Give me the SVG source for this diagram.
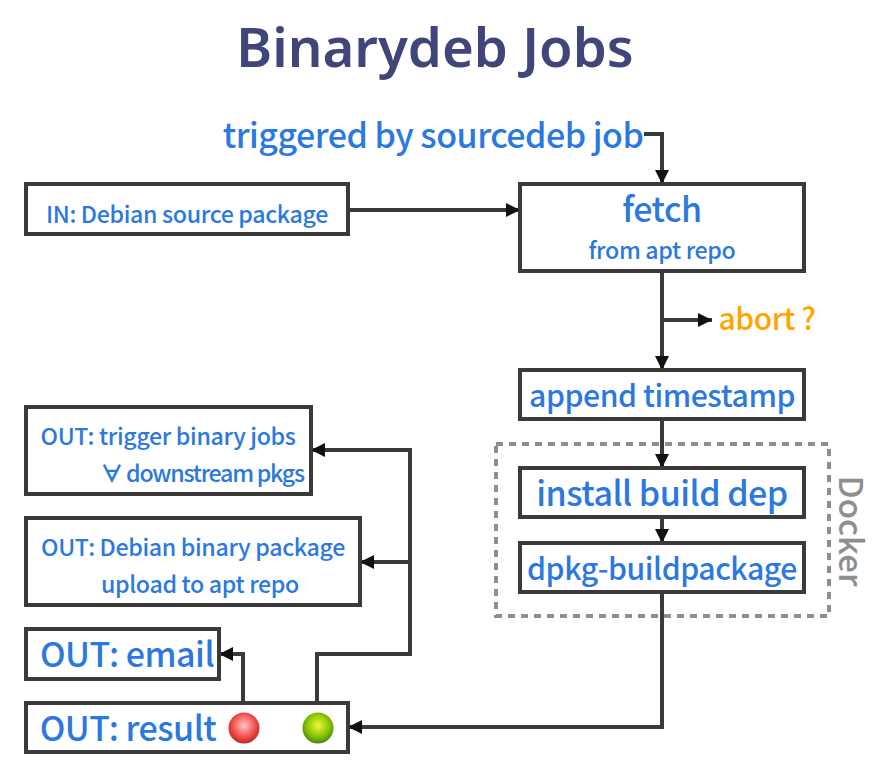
<svg xmlns="http://www.w3.org/2000/svg" width="881" height="774" viewBox="0 0 881 774">
<style>
text{font-family:"Noto Sans CJK SC","Noto Sans",sans-serif;font-weight:500;fill:#2b78e0;text-anchor:middle;letter-spacing:-.015em}
.b{fill:#fff;stroke:#3a3a3a;stroke-width:4}
.c{fill:none;stroke:#3a3a3a;stroke-width:4;marker-end:url(#a)}
.s{font-size:23.2px}.m{font-size:30.2px}.l{font-size:34px}
</style>
<defs>
<marker id="a" markerUnits="userSpaceOnUse" markerWidth="15" markerHeight="15" refX="14" refY="7.5" orient="auto"><path d="M0 .5L14 7.5L0 14.5z" fill="#111"/></marker>
<radialGradient id="r" cx=".5" cy=".42" r=".56"><stop offset="0" stop-color="#ffc4c4"/><stop offset=".75" stop-color="#f04040"/><stop offset="1" stop-color="#b83030"/></radialGradient>
<radialGradient id="g" cx=".5" cy=".42" r=".56"><stop offset="0" stop-color="#f0fa40"/><stop offset=".7" stop-color="#80c000"/><stop offset="1" stop-color="#4f8a10"/></radialGradient>
</defs>
<text x="435" y="67" style="font-size:54.5px;font-weight:600;fill:#40457a;letter-spacing:0;font-family:'Noto Sans','Noto Sans CJK SC',sans-serif">Binarydeb Jobs</text>
<g id="connectors">
<path class="c" d="M644 134H662V184"/>
<path class="c" d="M348 210H520"/>
<path class="c" d="M662 271V370"/>
<path class="c" d="M662 320H712"/>
<path class="c" d="M662 419V468"/>
<path class="c" d="M662 517V543"/>
<path class="c" d="M662 592V727H348"/>
<path class="c" d="M243 703V654H219"/>
<path class="c" d="M317 703V654H410V450H311"/>
<path class="c" d="M410 562H360"/>
</g>
<g id="docker"><rect x="496" y="444" width="333" height="172" fill="none" stroke="#8e8e8e" stroke-width="4" stroke-dasharray="7 6"/>
<text transform="translate(839 531) rotate(90)" style="font-size:33px;fill:#8e8e8e;letter-spacing:0">Docker</text></g>
<g id="trigger"><text x="433" y="148" class="l">triggered by sourcedeb job</text></g>
<g id="in"><rect class="b" x="26" y="184" width="322" height="50"/><text x="187" y="223" class="s">IN: Debian source package</text></g>
<g id="fetch"><rect class="b" x="520" y="184" width="284" height="87"/><text x="662" y="222" class="l">fetch</text><text x="662" y="259" class="s">from apt repo</text></g>
<g id="abort"><text x="767" y="330" style="font-size:30px;fill:#ffa500">abort ?</text></g>
<g id="timestamp"><rect class="b" x="520" y="370" width="284" height="49"/><text x="662" y="407" class="m">append timestamp</text></g>
<g id="install"><rect class="b" x="520" y="468" width="284" height="49"/><text x="662" y="506" class="l">install build dep</text></g>
<g id="dpkg"><rect class="b" x="520" y="543" width="284" height="49"/><text x="662" y="580" class="m">dpkg-buildpackage</text></g>
<g id="trigger-out"><rect class="b" x="26" y="407" width="285" height="87"/><text x="168" y="445" class="s">OUT: trigger binary jobs</text><text x="202" y="482" class="s" style="letter-spacing:-.055em"><tspan style="font-weight:700">∀</tspan> downstream pkgs</text></g>
<g id="binary"><rect class="b" x="26" y="518" width="334" height="87"/><text x="193" y="556" class="s">OUT: Debian binary package</text><text x="200" y="593" class="s">upload to apt repo</text></g>
<g id="email"><rect class="b" x="26" y="629" width="193" height="50"/><text x="127" y="667" class="l">OUT: email</text></g>
<g id="result"><rect class="b" x="26" y="703" width="322" height="49"/><text x="128" y="741" class="l">OUT: result</text>
<circle cx="244" cy="728" r="15.5" fill="url(#r)"/><circle cx="318" cy="728" r="15.5" fill="url(#g)"/></g>
</svg>
